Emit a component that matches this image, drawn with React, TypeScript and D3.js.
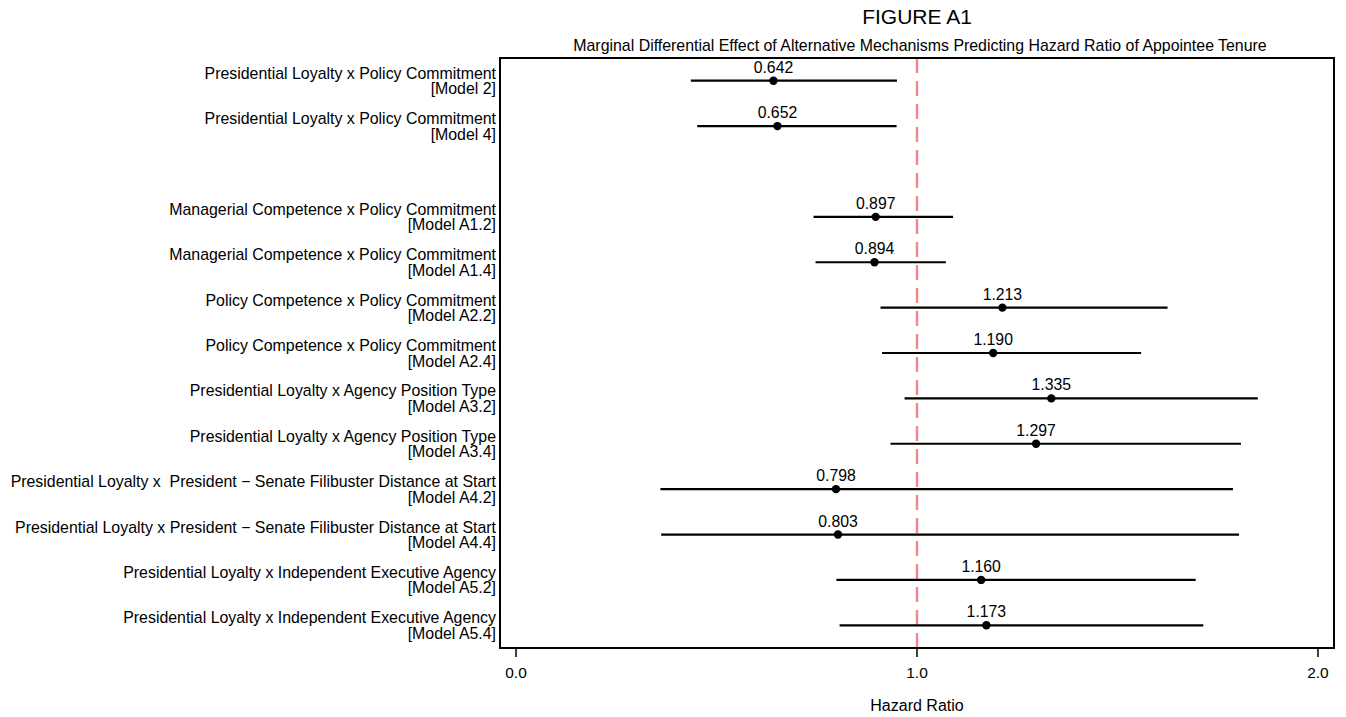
import React from "react";
import * as d3 from "d3";

const labelLine1 = [
  "Presidential Loyalty x Policy Commitment",
  "Presidential Loyalty x Policy Commitment",
  "Managerial Competence x Policy Commitment",
  "Managerial Competence x Policy Commitment",
  "Policy Competence x Policy Commitment",
  "Policy Competence x Policy Commitment",
  "Presidential Loyalty x Agency Position Type",
  "Presidential Loyalty x Agency Position Type",
  "Presidential Loyalty x  President \u2212 Senate Filibuster Distance at Start",
  "Presidential Loyalty x President \u2212 Senate Filibuster Distance at Start",
  "Presidential Loyalty x Independent Executive Agency",
  "Presidential Loyalty x Independent Executive Agency",
];
const labelLine2 = [
  "[Model 2]", "[Model 4]", "[Model A1.2]", "[Model A1.4]", "[Model A2.2]", "[Model A2.4]",
  "[Model A3.2]", "[Model A3.4]", "[Model A4.2]", "[Model A4.4]", "[Model A5.2]", "[Model A5.4]",
];
const slots = [0, 1, 3, 4, 5, 6, 7, 8, 9, 10, 11, 12];
const estimates = [0.642, 0.652, 0.897, 0.894, 1.213, 1.19, 1.335, 1.297, 0.798, 0.803, 1.16, 1.173];
const lower = [0.436, 0.452, 0.742, 0.747, 0.909, 0.913, 0.969, 0.934, 0.36, 0.362, 0.799, 0.807];
const upper = [0.95, 0.949, 1.09, 1.072, 1.625, 1.559, 1.85, 1.808, 1.788, 1.803, 1.695, 1.714];
const xTicks = [0, 1, 2];

const W = 1346, H = 717;
const left = 500, right = 1334, top = 58, bottom = 648;
const font = "'Liberation Sans', Arial, sans-serif";

export default function App() {
  const x = d3.scaleLinear().domain([-0.04, 2.04]).range([left, right]);
  const y = d3.scaleLinear().domain([-0.5, 12.5]).range([top, bottom]);
  return (
    <svg width={W} height={H} style={{ position: "absolute", left: 0, top: 0, background: "#fff" }} fontFamily={font}>
      <text x={917} y={24} textAnchor="middle" fontSize={21}>FIGURE A1</text>
      <text x={920} y={51} textAnchor="middle" fontSize={15.9}>
        Marginal Differential Effect of Alternative Mechanisms Predicting Hazard Ratio of Appointee Tenure
      </text>
      <line x1={x(1)} x2={x(1)} y1={top} y2={bottom} stroke="#f4878c" strokeWidth={2.4} strokeDasharray="15,8" />
      {estimates.map((e, i) => {
        const yy = y(slots[i]);
        return (
          <g key={i}>
            <line x1={x(lower[i])} x2={x(upper[i])} y1={yy} y2={yy} stroke="#000" strokeWidth={2.2} />
            <circle cx={x(e)} cy={yy} r={4.2} fill="#000" />
            <text x={x(e)} y={yy - 8} textAnchor="middle" fontSize={15.8}>{e.toFixed(3)}</text>
            <text x={496} y={yy - 2} textAnchor="end" fontSize={15.9} style={{ whiteSpace: "pre" }}>{labelLine1[i]}</text>
            <text x={496} y={yy + 13.5} textAnchor="end" fontSize={15.9}>{labelLine2[i]}</text>
          </g>
        );
      })}
      <rect x={left} y={top} width={right - left} height={bottom - top} fill="none" stroke="#000" strokeWidth={2} />
      {xTicks.map((t) => (
        <g key={t}>
          <line x1={x(t)} x2={x(t)} y1={bottom} y2={bottom + 9} stroke="#000" strokeWidth={1.5} />
          <text x={x(t)} y={678} textAnchor="middle" fontSize={15.5}>{t.toFixed(1)}</text>
        </g>
      ))}
      <text x={917} y={711} textAnchor="middle" fontSize={16}>Hazard Ratio</text>
    </svg>
  );
}
